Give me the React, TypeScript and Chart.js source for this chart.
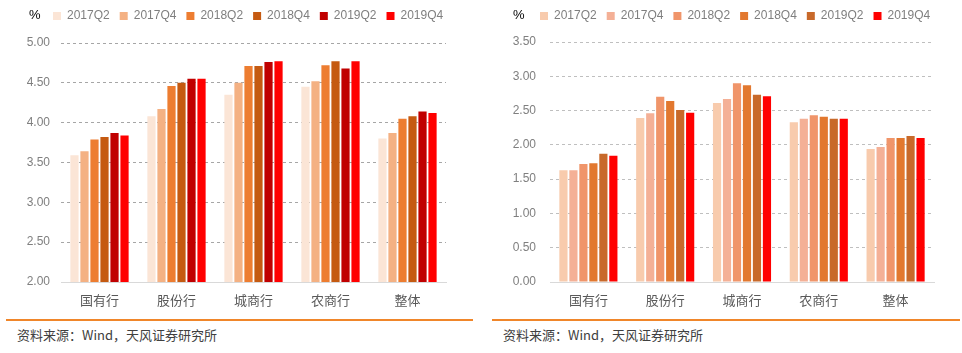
import React, { useEffect, useRef } from "react";
import { Chart, registerables } from "chart.js";

Chart.register(...registerables);

const CATEGORIES = ["国有行", "股份行", "城商行", "农商行", "整体"];
const SERIES_NAMES = ["2017Q2", "2017Q4", "2018Q2", "2018Q4", "2019Q2", "2019Q4"];

// Left chart values (%)
const LEFT_2017Q2 = [3.59, 4.08, 4.35, 4.45, 3.8];
const LEFT_2017Q4 = [3.64, 4.17, 4.5, 4.52, 3.87];
const LEFT_2018Q2 = [3.79, 4.46, 4.71, 4.72, 4.05];
const LEFT_2018Q4 = [3.82, 4.5, 4.71, 4.77, 4.08];
const LEFT_2019Q2 = [3.87, 4.55, 4.76, 4.68, 4.14];
const LEFT_2019Q4 = [3.84, 4.55, 4.77, 4.77, 4.12];

// Right chart values (%)
const RIGHT_2017Q2 = [1.63, 2.39, 2.61, 2.33, 1.94];
const RIGHT_2017Q4 = [1.63, 2.46, 2.67, 2.38, 1.97];
const RIGHT_2018Q2 = [1.72, 2.7, 2.9, 2.43, 2.1];
const RIGHT_2018Q4 = [1.73, 2.64, 2.87, 2.41, 2.1];
const RIGHT_2019Q2 = [1.87, 2.51, 2.73, 2.38, 2.13];
const RIGHT_2019Q4 = [1.84, 2.47, 2.71, 2.38, 2.1];

const LEFT_TICKS = { min: 2, max: 5, step: 0.5 };
const RIGHT_TICKS = { min: 0, max: 3.5, step: 0.5 };

const LEFT_COLORS = ["#FBE5D6", "#F4B183", "#ED7D31", "#C55A11", "#C00000", "#FF0000"];
const RIGHT_COLORS = ["#F8CBAD", "#F4B096", "#F0956A", "#E2782F", "#C8692A", "#FF0000"];

const FONT = '"Liberation Sans", "Noto Sans CJK SC", sans-serif';
const CJK_FONT = '"Noto Sans CJK SC", "Liberation Sans", sans-serif';

type PanelProps = {
  values: number[][];
  colors: string[];
  ticks: { min: number; max: number; step: number };
  width: number;
  height: number;
  padRight: number;
  yAxisWidth: number;
  legendHeight: number;
  legendLeft: number;
  gridColor: string;
  yTickPadding: number;
};

function BarPanel(props: PanelProps) {
  const ref = useRef<HTMLCanvasElement | null>(null);
  useEffect(() => {
    if (!ref.current) return;
    const legendPlacePlugin = {
      id: "legendPlace",
      beforeInit(chart: any) {
        const legend = chart.legend;
        if (!legend) return;
        const orig = legend.fit;
        legend.fit = function () {
          orig.call(this);
          this.height = props.legendHeight;
        };
      },
      afterLayout(chart: any) {
        const legend = chart.legend;
        if (!legend) return;
        const shift = props.legendLeft - legend.left;
        legend.left += shift;
        legend.right += shift;
      },
    };
    const chart = new Chart(ref.current, {
      type: "bar",
      data: {
        labels: CATEGORIES,
        datasets: SERIES_NAMES.map((name, i) => ({
          label: name,
          data: props.values[i],
          backgroundColor: props.colors[i],
          borderWidth: 0,
          categoryPercentage: 0.78,
          barPercentage: 0.82,
        })),
      },
      options: {
        animation: false,
        responsive: false,
        maintainAspectRatio: false,
        layout: { padding: { left: 0, right: props.padRight, top: 0, bottom: 0 } },
        plugins: {
          tooltip: { enabled: false },
          legend: {
            position: "top",
            align: "start",
            labels: {
              boxWidth: 8,
              boxHeight: 8,
              padding: 10,
              color: "#7F7F7F",
              font: { family: FONT, size: 12 },
            },
          },
        },
        scales: {
          x: {
            grid: { display: false },
            border: { display: true, color: "#D9D9D9", width: 1 },
            ticks: { color: "#595959", padding: 2, font: { family: CJK_FONT, size: 13 } },
            afterFit(scale: any) {
              scale.height = 30;
            },
          },
          y: {
            min: props.ticks.min,
            max: props.ticks.max,
            border: { display: false, dash: [3, 3] },
            grid: {
              drawTicks: false,
              lineWidth: 1,
              color: (ctx: any) =>
                ctx.tick && Math.abs(ctx.tick.value - props.ticks.min) < 1e-9 ? "rgba(0,0,0,0)" : props.gridColor,
            },
            ticks: {
              stepSize: props.ticks.step,
              padding: props.yTickPadding,
              color: "#7F7F7F",
              font: { family: FONT, size: 12 },
              callback: (v: any) => Number(v).toFixed(2),
            },
            afterFit(scale: any) {
              scale.width = props.yAxisWidth;
            },
          },
        },
      },
      plugins: [legendPlacePlugin],
    } as any);
    return () => chart.destroy();
  }, []);
  return <canvas ref={ref} width={props.width} height={props.height} style={{ display: "block" }} />;
}

const percentStyle: React.CSSProperties = {
  position: "absolute",
  top: 7,
  fontFamily: FONT,
  fontSize: 13,
  color: "#000",
};

const sourceStyle: React.CSSProperties = {
  position: "absolute",
  top: 325,
  fontFamily: CJK_FONT,
  fontSize: 13,
  color: "#404040",
  whiteSpace: "nowrap",
};

export default function App() {
  return (
    <div
      style={{
        position: "fixed",
        left: 0,
        top: 0,
        width: 962,
        height: 353,
        background: "#fff",
        overflow: "hidden",
      }}
    >
      <div style={{ position: "absolute", left: 0, top: 0 }}>
        <BarPanel
          values={[LEFT_2017Q2, LEFT_2017Q4, LEFT_2018Q2, LEFT_2018Q4, LEFT_2019Q2, LEFT_2019Q4]}
          colors={LEFT_COLORS}
          ticks={LEFT_TICKS}
          width={480}
          height={312}
          padRight={34}
          yAxisWidth={61}
          legendHeight={43}
          legendLeft={43}
          gridColor="#A6A6A6"
          yTickPadding={11}
        />
      </div>
      <div style={{ position: "absolute", left: 480, top: 0 }}>
        <BarPanel
          values={[RIGHT_2017Q2, RIGHT_2017Q4, RIGHT_2018Q2, RIGHT_2018Q4, RIGHT_2019Q2, RIGHT_2019Q4]}
          colors={RIGHT_COLORS}
          ticks={RIGHT_TICKS}
          width={482}
          height={312}
          padRight={28}
          yAxisWidth={70}
          legendHeight={42}
          legendLeft={50}
          gridColor="#BFBFBF"
          yTickPadding={14}
        />
      </div>
      <span style={{ ...percentStyle, left: 29 }}>%</span>
      <span style={{ ...percentStyle, left: 513 }}>%</span>
      <div style={{ position: "absolute", left: 6, top: 319, width: 467, height: 2, background: "#F0862A" }} />
      <div style={{ position: "absolute", left: 492, top: 319, width: 468, height: 2, background: "#F0862A" }} />
      <span style={{ ...sourceStyle, left: 17 }}>资料来源：Wind，天风证券研究所</span>
      <span style={{ ...sourceStyle, left: 503 }}>资料来源：Wind，天风证券研究所</span>
    </div>
  );
}
